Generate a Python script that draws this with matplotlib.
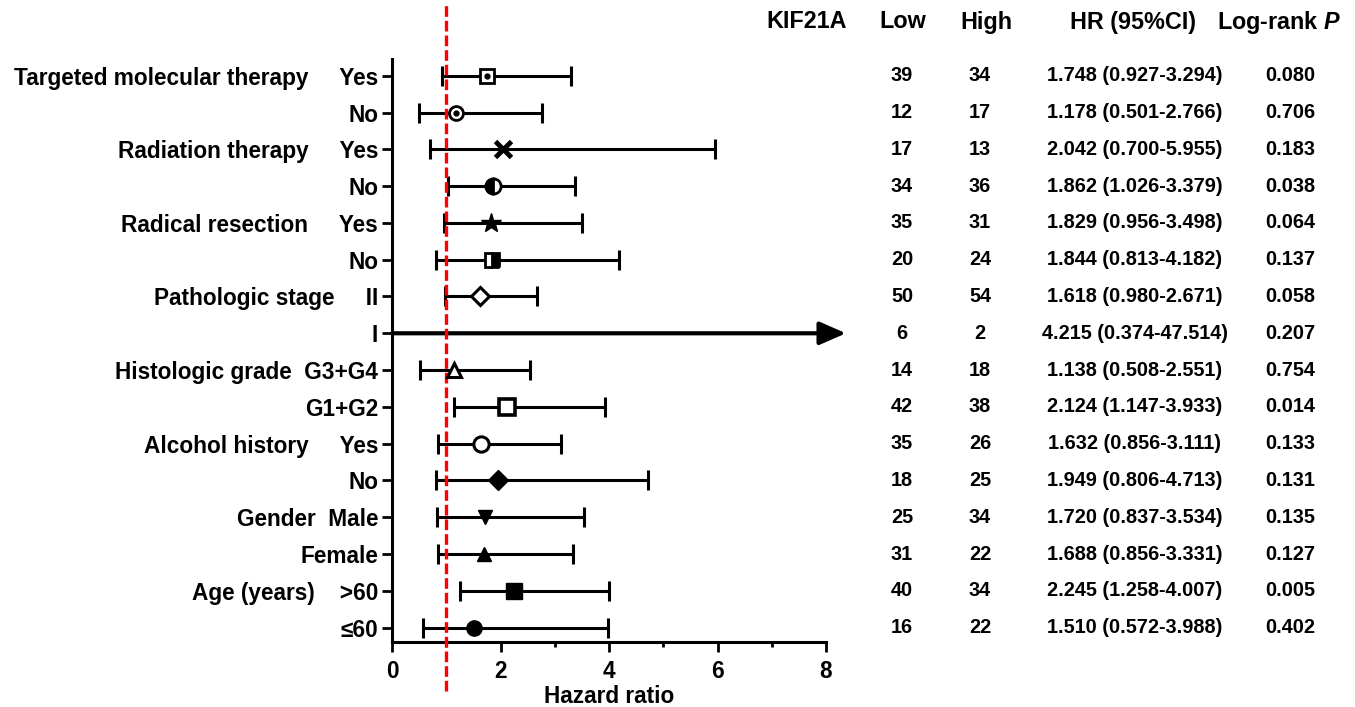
import numpy as np
import matplotlib
matplotlib.use('Agg')
import matplotlib.pyplot as plt
from matplotlib.transforms import blended_transform_factory

plt.rcParams['font.family'] = ['Liberation Sans', 'DejaVu Sans']
plt.rcParams['font.weight'] = 'bold'
plt.rcParams['mathtext.fontset'] = 'custom'
plt.rcParams['mathtext.it'] = 'Liberation Sans:italic:bold'
plt.rcParams['mathtext.rm'] = 'Liberation Sans:bold'

# subgroup labels, top to bottom
row_labels = ['Targeted molecular therapy     Yes', 'No',
              'Radiation therapy     Yes', 'No',
              'Radical resection     Yes', 'No',
              'Pathologic stage     II', 'I',
              'Histologic grade  G3+G4', 'G1+G2',
              'Alcohol history     Yes', 'No',
              'Gender  Male', 'Female',
              'Age (years)    >60', '\u226460']
n_low = [39, 12, 17, 34, 35, 20, 50, 6, 14, 42, 35, 18, 25, 31, 40, 16]
n_high = [34, 17, 13, 36, 31, 24, 54, 2, 18, 38, 26, 25, 34, 22, 34, 22]
hr = [1.748, 1.178, 2.042, 1.862, 1.829, 1.844, 1.618, 4.215,
      1.138, 2.124, 1.632, 1.949, 1.720, 1.688, 2.245, 1.510]
ci_lo = [0.927, 0.501, 0.700, 1.026, 0.956, 0.813, 0.980, 0.374,
         0.508, 1.147, 0.856, 0.806, 0.837, 0.856, 1.258, 0.572]
ci_hi = [3.294, 2.766, 5.955, 3.379, 3.498, 4.182, 2.671, 47.514,
         2.551, 3.933, 3.111, 4.713, 3.534, 3.331, 4.007, 3.988]
p_vals = ['0.080', '0.706', '0.183', '0.038', '0.064', '0.137', '0.058', '0.207',
          '0.754', '0.014', '0.133', '0.131', '0.135', '0.127', '0.005', '0.402']
col_heads = ['KIF21A', 'Low', 'High', 'HR (95%CI)', 'Log-rank $\\mathit{P}$']

# marker look for each row
W = 'white'
K = 'black'
styles = [
    dict(marker='s', mfc=W, ms=10, mew=2),
    dict(marker='o', mfc=W, ms=10, mew=2),
    dict(marker='x', ms=12, mew=3.5),
    dict(marker='o', fillstyle='left', mfc=K, markerfacecoloralt=W, ms=11, mew=2),
    dict(marker='*', mfc=K, ms=15),
    dict(marker='s', fillstyle='right', mfc=K, markerfacecoloralt=W, ms=10, mew=2),
    dict(marker='D', mfc=W, ms=9, mew=2.2),
    None,
    dict(marker='^', mfc=W, ms=10, mew=2.2),
    dict(marker='s', mfc=W, ms=11, mew=2.6),
    dict(marker='o', mfc=W, ms=11, mew=2.2),
    dict(marker='D', mfc=K, ms=10),
    dict(marker='v', mfc=K, ms=10),
    dict(marker='^', mfc=K, ms=10),
    dict(marker='s', mfc=K, ms=11),
    dict(marker='o', mfc=K, ms=11),
]
dotted = [0, 1]

xmax = 8
fig = plt.figure(figsize=(13.55, 7.07), dpi=100)
ax = fig.add_axes([0.2893, 0.0925, 0.3203, 0.8243])

y = np.arange(len(hr))
for i in y:
    if ci_hi[i] > xmax:
        ax.annotate('', xy=(xmax * 1.046, i), xytext=(0, i),
                    arrowprops=dict(arrowstyle='-|>,head_length=0.8,head_width=0.35',
                                    lw=3, color='k', shrinkA=0, shrinkB=0,
                                    mutation_scale=20),
                    annotation_clip=False, zorder=3)
    else:
        ax.errorbar(hr[i], i, xerr=[[hr[i] - ci_lo[i]], [ci_hi[i] - hr[i]]],
                    fmt='none', ecolor='k', elinewidth=2.2, capsize=7, capthick=2.2,
                    zorder=2)
    if styles[i] is not None:
        ax.plot(hr[i], i, color='k', mec='k', linestyle='none', zorder=4, **styles[i])
    if i in dotted:
        ax.plot(hr[i], i, 'o', color='k', ms=3.5, zorder=5)

# reference line at HR = 1
ax.axvline(1, ymin=-0.084, ymax=1.098, color='#ff0000', lw=2.4,
           dashes=(3.2, 1.2), clip_on=False, zorder=3)

ax.set_xlim(0, xmax)
ax.set_ylim(15.38, -0.46)
ax.set_xticks([0, 2, 4, 6, 8])
ax.set_xticks([1, 3, 5, 7], minor=True)
ax.set_yticks(y)
ax.set_yticklabels(row_labels, fontsize=16.3, fontweight='bold')
ax.tick_params(axis='x', labelsize=16.3, width=2, length=7, pad=6)
ax.tick_params(axis='x', which='minor', width=2, length=3.5)
ax.tick_params(axis='y', width=2, length=7, pad=3)
for t in ax.get_xticklabels():
    t.set_fontweight('bold')
ax.set_xlabel('Hazard ratio', fontsize=16.3, fontweight='bold', labelpad=2)
ax.spines['top'].set_visible(False)
ax.spines['right'].set_visible(False)
ax.spines['left'].set_linewidth(2.2)
ax.spines['bottom'].set_linewidth(2.2)

# table on the right
head_x = [807, 903, 986, 1133, 1279]
cell_x = [902, 980, 1135, 1290]
for cx, h in zip(head_x, col_heads):
    fig.text(cx / 1355, 1 - 22 / 707, h, ha='center', va='center',
             fontsize=16.8, fontweight='bold')

tr = blended_transform_factory(fig.transFigure, ax.transData)
for i in y:
    hr_txt = f'{hr[i]:.3f} ({ci_lo[i]:.3f}-{ci_hi[i]:.3f})'
    for cx, s in zip(cell_x, [str(n_low[i]), str(n_high[i]), hr_txt, p_vals[i]]):
        ax.text(cx / 1355, i, s, transform=tr, ha='center', va='center',
                fontsize=14.3, fontweight='bold', clip_on=False)

fig.savefig('out.png', dpi=100)
